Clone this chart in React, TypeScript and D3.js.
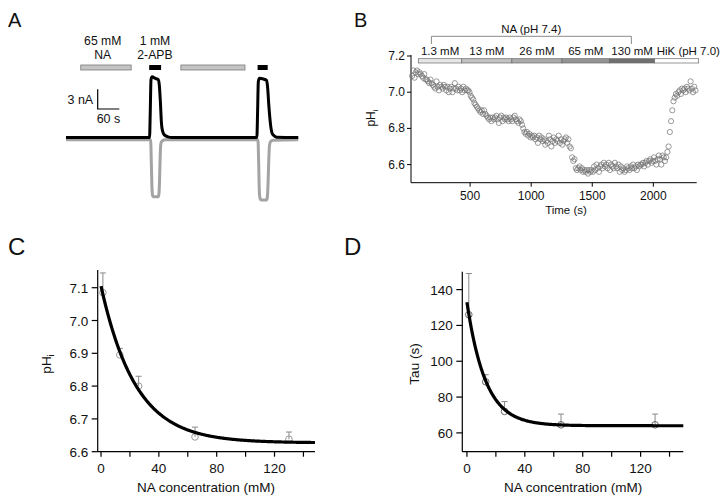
import React from "react";
import * as d3 from "d3";

const FONT = "'Liberation Sans', Arial, Helvetica, sans-serif";

// ---------- Panel A: current traces ----------
const traceBlackT = [0, 232, 234, 236, 239, 248, 256, 259, 262, 265, 268, 273, 283, 295,
  530, 532, 534, 537, 548, 557, 560, 563, 566, 569, 572, 577, 585, 645];
const traceBlackI = [0, 0, 4, 8.8, 9.25, 9.0, 8.8, 8.0, 5.5, 2.2, 1.0, 0.4, 0.1, 0,
  0, 4, 8.5, 9.0, 8.9, 8.7, 7.5, 5.0, 3.0, 1.5, 0.7, 0.3, 0.05, 0];
const traceGrayT = [0, 235, 237, 239, 241, 244, 256, 258, 259.5, 261, 262.5, 264.5, 268, 275,
  533, 535, 537, 539, 542, 557, 559, 561, 563, 565, 568, 575, 645];
const traceGrayI = [-0.35, -0.35, -4, -8.0, -8.9, -9.0, -9.0, -8.6, -7.0, -4.0, -1.5, -0.7, -0.5, -0.35,
  -0.35, -4, -8.5, -9.3, -9.5, -9.5, -9.1, -7, -3.5, -1.2, -0.6, -0.4, -0.35];
const naBars = [[41, 181], [319, 497]];
const apbBars = [[231, 264], [532, 560]];

// ---------- Panel B: pHi time course ----------
const SAMPLE_T0 = 25;
const SAMPLE_DT = 10;
const phB = [
  7.09, 7.12, 7.08, 7.11, 7.12, 7.10, 7.11, 7.10,
  7.09, 7.08, 7.10, 7.07, 7.07, 7.06, 7.05, 7.07, 7.05, 7.04,
  7.03, 7.02, 7.06, 7.03, 7.01, 7.04, 7.03, 7.02, 7.04, 7.03,
  7.01, 7.03, 7.00, 7.02, 7.03, 7.00, 7.02, 7.05, 7.02, 7.01,
  7.03, 7.01, 7.02, 7.00, 7.03, 7.01, 7.02, 7.01, 7.01, 7.00,
  6.98, 6.97, 6.96, 6.94, 6.93, 6.92, 6.91, 6.90, 6.89, 6.90,
  6.88, 6.90, 6.88, 6.87, 6.86, 6.85, 6.86, 6.84, 6.86, 6.85,
  6.86, 6.87, 6.85, 6.83, 6.86, 6.87, 6.84, 6.86, 6.85, 6.86,
  6.85, 6.84, 6.86, 6.85, 6.84, 6.86, 6.87, 6.85, 6.84, 6.83,
  6.85, 6.84, 6.82, 6.80, 6.78, 6.77, 6.78, 6.76, 6.77, 6.75,
  6.76, 6.75, 6.76, 6.74, 6.75, 6.72, 6.76, 6.74, 6.75, 6.73,
  6.74, 6.71, 6.73, 6.72, 6.76, 6.74, 6.70, 6.73, 6.75, 6.72,
  6.74, 6.73, 6.76, 6.72, 6.74, 6.71, 6.73, 6.74, 6.75, 6.72,
  6.74, 6.70, 6.69, 6.64, 6.62, 6.63, 6.58, 6.57, 6.58, 6.59,
  6.57, 6.58, 6.56, 6.57, 6.56, 6.57, 6.55, 6.57, 6.56, 6.57,
  6.56, 6.59, 6.57, 6.60, 6.58, 6.56, 6.59, 6.60, 6.58, 6.61,
  6.59, 6.60, 6.58, 6.61, 6.57, 6.60, 6.59, 6.58, 6.61, 6.59,
  6.58, 6.60, 6.56, 6.59, 6.57, 6.58, 6.56, 6.57, 6.59, 6.58,
  6.57, 6.59, 6.58, 6.60, 6.58, 6.59, 6.57, 6.60, 6.59, 6.60,
  6.60, 6.61, 6.59, 6.61, 6.62, 6.60, 6.62, 6.63, 6.61, 6.62,
  6.64, 6.62, 6.60, 6.63, 6.65, 6.63, 6.60, 6.65, 6.64, 6.62,
  6.64, 6.67, 6.70, 6.78, 6.84, 6.90, 6.95, 6.97, 6.99, 6.98,
  7.00, 7.01, 6.99, 7.02, 7.01, 7.02, 7.00, 7.03, 7.02, 7.01,
  7.06, 7.02, 7.00, 7.03, 7.01,
];
const solLabels = ["1.3 mM", "13 mM", "26 mM", "65 mM", "130 mM", "HiK (pH 7.0)"];
const solBounds = [76, 432, 842, 1252, 1642, 2011, 2371];
const solColors = ["#e6e6e6", "#c2c2c2", "#ababab", "#949494", "#707070", "#ffffff"];
const bXTicks = [500, 1000, 1500, 2000];
const bYTicks = [6.6, 6.8, 7.0, 7.2];

// ---------- Panels C & D: concentration dependence ----------
const naConc = [1.3, 13, 26, 65, 130];
const phMean = [7.085, 6.895, 6.80, 6.645, 6.638];
const phErr = [0.06, 0.02, 0.03, 0.03, 0.022];
const tauMean = [126, 88.5, 72, 64.5, 64.5];
const tauErr = [23, 4, 5.5, 6, 6];
const fitC = { y0: 6.627, A: 0.478, tau: 24 };
const fitD = { y0: 64, A: 69, tau: 12.8 };
const concTicks = [0, 20, 40, 60, 80, 100, 120, 140];
const concLabels = [0, 40, 80, 120];
const cYTicks = [6.6, 6.7, 6.8, 6.9, 7.0, 7.1];
const dYTicks = [60, 80, 100, 120, 140];

function PanelA() {
  const x = d3.scaleLinear().domain([0, 645]).range([66, 298.3]);
  const y = d3.scaleLinear().domain([-10, 10]).range([137.5 + 65.7, 137.5 - 65.7]);
  const line = d3.line<number>().curve(d3.curveMonotoneX);
  const gray = line(traceGrayT.map((t, i) => [x(t), y(traceGrayI[i])] as any) as any);
  const black = line(traceBlackT.map((t, i) => [x(t), y(traceBlackI[i])] as any) as any);
  const sbT0 = 88, sbI0 = 4.34;
  return (
    <g>
      <text x={8} y={27} fontSize={20}>A</text>
      <text x={x(102)} y={44.5} fontSize={12.2} textAnchor="middle">65 mM</text>
      <text x={x(102)} y={58.6} fontSize={12.2} textAnchor="middle">NA</text>
      <text x={x(247)} y={44.5} fontSize={12.2} textAnchor="middle">1 mM</text>
      <text x={x(247)} y={58.6} fontSize={12.2} textAnchor="middle">2-APB</text>
      {naBars.map((b, i) => (
        <rect key={"n" + i} x={x(b[0])} y={65} width={x(b[1]) - x(b[0])} height={5}
          fill="#c4c4c4" stroke="#7a7a7a" strokeWidth={0.8} />
      ))}
      {apbBars.map((b, i) => (
        <rect key={"a" + i} x={x(b[0])} y={65} width={x(b[1]) - x(b[0])} height={5} fill="#000" />
      ))}
      <path d={`M${x(sbT0)},${y(sbI0 + 3)}V${y(sbI0)}H${x(sbT0 + 60)}`} fill="none" stroke="#000" strokeWidth={1.2} />
      <text x={x(sbT0) - 4.5} y={104} fontSize={12.5} textAnchor="end">3 nA</text>
      <text x={x(sbT0 + 30)} y={123.3} fontSize={12.5} textAnchor="middle">60 s</text>
      <path d={gray || ""} fill="none" stroke="#a3a3a3" strokeWidth={3} strokeLinejoin="round" />
      <path d={black || ""} fill="none" stroke="#000" strokeWidth={3} strokeLinejoin="round" />
    </g>
  );
}

function PanelB() {
  const x = d3.scaleLinear().domain([16, 2355]).range([411, 696.7]);
  const y = d3.scaleLinear().domain([6.5, 7.2]).range([182.7, 56]);
  const times = phB.map((_, i) => SAMPLE_T0 + i * SAMPLE_DT);
  const x0 = 411, y0 = 182.7;
  return (
    <g>
      <text x={354} y={27} fontSize={20}>B</text>
      {/* bracket */}
      <path d={`M${x(183)},44V36.3H${x(1820)}V44`} fill="none" stroke="#8a8a8a" strokeWidth={1} />
      <text x={x(1000)} y={33} fontSize={11.5} textAnchor="middle">NA (pH 7.4)</text>
      {solLabels.map((s, i) => {
        const last = i === solLabels.length - 1;
        return (
          <g key={s}>
            <rect x={x(solBounds[i])} y={58.7} width={x(solBounds[i + 1]) - x(solBounds[i])} height={4.3}
              fill={solColors[i]} stroke="#6a6a6a" strokeWidth={0.7} />
            <text x={last ? x(solBounds[i]) + 2 : (x(solBounds[i]) + x(solBounds[i + 1])) / 2}
              y={54.7} fontSize={11.5} textAnchor={last ? "start" : "middle"}>{s}</text>
          </g>
        );
      })}
      {/* axes */}
      <line x1={x0} x2={x0} y1={55} y2={y0} stroke="#000" strokeWidth={1} />
      <line x1={x0} x2={696.7} y1={y0} y2={y0} stroke="#000" strokeWidth={1} />
      {bYTicks.map((t) => (
        <g key={t}>
          <line x1={x0 - 4} x2={x0} y1={y(t)} y2={y(t)} stroke="#000" />
          <text x={405} y={y(t) + 4} fontSize={12} textAnchor="end">{t.toFixed(1)}</text>
        </g>
      ))}
      {bXTicks.map((t) => (
        <g key={t}>
          <line x1={x(t)} x2={x(t)} y1={y0} y2={y0 + 4} stroke="#000" />
          <text x={x(t)} y={200} fontSize={12} textAnchor="middle">{t}</text>
        </g>
      ))}
      <text x={x(1285)} y={214} fontSize={11.5} textAnchor="middle">Time (s)</text>
      <text transform={`translate(375,118) rotate(-90)`} fontSize={12} textAnchor="middle">
        pH<tspan fontSize={8} dy={3}>i</tspan>
      </text>
      {phB.map((v, i) => (
        <circle key={i} cx={x(times[i])} cy={y(v)} r={2.6} fill="none" stroke="#707070" strokeWidth={0.7} />
      ))}
    </g>
  );
}

function ConcPanel(props: {
  letter: string; letterX: number; x0: number; x1: number; xDom: [number, number];
  yDom: [number, number]; yTop: number; means: number[]; errs: number[];
  fit: { y0: number; A: number; tau: number }; yTicks: number[]; fmt: (v: number) => string;
  ylabel: React.ReactNode; ylabelX: number; markerColor: string;
}) {
  const { x0, x1, yTop } = props;
  const yBot = 451.7;
  const x = d3.scaleLinear().domain(props.xDom).range([x0, x1]);
  const y = d3.scaleLinear().domain(props.yDom).range([yBot, yTop]);
  const fitX = d3.range(0, props.xDom[1] + 0.01, 0.5);
  const fitLine = d3.line<number>().x((c) => x(c)).y((c) => y(props.fit.y0 + props.fit.A * Math.exp(-c / props.fit.tau)));
  return (
    <g>
      <text x={props.letterX} y={255} fontSize={24}>{props.letter}</text>
      <line x1={x0} x2={x0} y1={yTop} y2={yBot} stroke="#000" strokeWidth={1.2} />
      <line x1={x0} x2={x1} y1={yBot} y2={yBot} stroke="#000" strokeWidth={1.2} />
      {props.yTicks.map((t) => (
        <g key={t}>
          <line x1={x0 - 6} x2={x0} y1={y(t)} y2={y(t)} stroke="#000" strokeWidth={1.2} />
          <text x={x0 - 9.5} y={y(t) + 5} fontSize={13.5} textAnchor="end">{props.fmt(t)}</text>
        </g>
      ))}
      {concTicks.map((t) => (
        <line key={t} x1={x(t)} x2={x(t)} y1={yBot} y2={yBot + 5} stroke="#000" strokeWidth={1.2} />
      ))}
      {concLabels.map((t) => (
        <text key={t} x={x(t)} y={473} fontSize={13.5} textAnchor="middle">{t}</text>
      ))}
      <text x={(x(0) + x1) / 2 - 2} y={491.5} fontSize={13.5} textAnchor="middle">NA concentration (mM)</text>
      <text transform={`translate(${props.ylabelX},364) rotate(-90)`} fontSize={13.5} textAnchor="middle">{props.ylabel}</text>
      {naConc.map((c, i) => {
        const cx = x(c);
        const top = y(props.means[i] + props.errs[i]);
        return (
          <g key={c}>
            <line x1={cx} x2={cx} y1={y(props.means[i])} y2={top} stroke="#8a8a8a" strokeWidth={1} />
            <line x1={cx - 3} x2={cx + 3} y1={top} y2={top} stroke="#8a8a8a" strokeWidth={1} />
            <circle cx={cx} cy={y(props.means[i])} r={3.3} fill="none" stroke={props.markerColor} strokeWidth={1} />
          </g>
        );
      })}
      <path d={fitLine(fitX) || ""} fill="none" stroke="#000" strokeWidth={3.2} />
    </g>
  );
}

export default function App() {
  return (
    <svg width={727} height={500} viewBox="0 0 727 500"
      style={{ position: "absolute", left: 0, top: 0, background: "#fff" }}
      fontFamily={FONT} fill="#111">
      <rect x={0} y={0} width={727} height={500} fill="#fff" />
      <PanelA />
      <PanelB />
      <ConcPanel letter="C" letterX={8} x0={97.7} x1={315} xDom={[-2.3, 148]} yDom={[6.6, 7.154]} yTop={270}
        means={phMean} errs={phErr} fit={fitC} yTicks={cYTicks} fmt={(v) => v.toFixed(1)}
        ylabel={<>pH<tspan fontSize={9} dy={3}>i</tspan></>} ylabelX={51} markerColor="#9a9a9a" />
      <ConcPanel letter="D" letterX={344} x0={462.3} x1={683.3} xDom={[-3.2, 149.5]} yDom={[49.5, 150]} yTop={271.7}
        means={tauMean} errs={tauErr} fit={fitD} yTicks={dYTicks} fmt={(v) => String(v)}
        ylabel={"Tau (s)"} ylabelX={419} markerColor="#666" />
    </svg>
  );
}
